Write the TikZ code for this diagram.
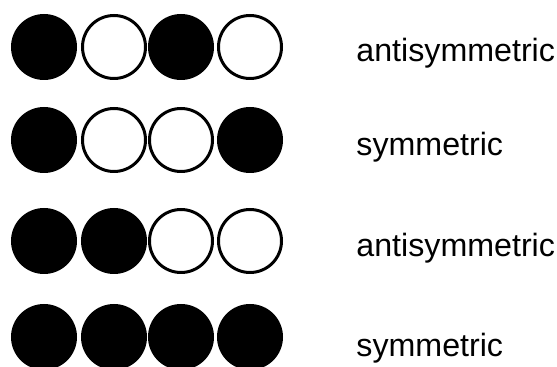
\documentclass[tikz,border=0pt]{standalone}
\usepackage{fontspec}
\setmainfont{Liberation Sans}
\tikzset{
  bead/.style={draw=black,line width=1.5pt},
  parity/.style={anchor=base west,inner sep=0pt,font=\fontsize{16.1}{18}\selectfont}
}
\begin{document}
\begin{tikzpicture}[x=0.5pt,y=-0.5pt]
            \useasboundingbox (0,0) rectangle (557,367);
            \foreach \y/\a/\b/\c/\d/\t/\lab/\name in {47/black/white/black/white/62/antisymmetric/one,
                                                      140/black/white/white/black/156/symmetric/two,
                                                      241/black/black/white/white/257/antisymmetric/three,
                                                      337/black/black/black/black/357/symmetric/four}
            {
            \foreach \x/\f in {44/\a,114/\b,181/\c,250/\d}
            \filldraw[bead,fill=\f](\x,\y)circle(31.5);
            \node[parity] (lab-\name) at (356,\t){\lab};
            }
            \end{tikzpicture}
\end{document}
